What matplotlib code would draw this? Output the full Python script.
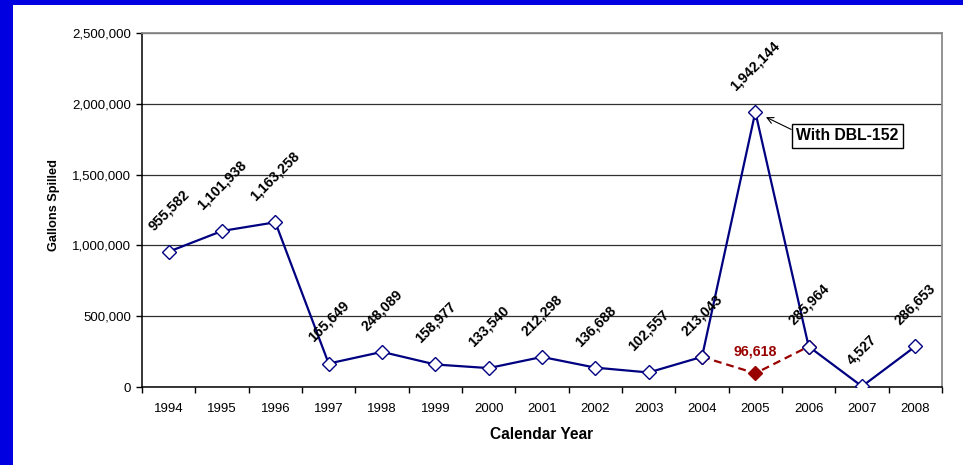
import matplotlib
matplotlib.use("Agg")
import matplotlib.pyplot as plt
from matplotlib.patches import Rectangle
from matplotlib.ticker import FuncFormatter, MultipleLocator, FixedLocator

years = ["1994", "1995", "1996", "1997", "1998", "1999", "2000", "2001",
         "2002", "2003", "2004", "2005", "2006", "2007", "2008"]
gallons = [955582, 1101938, 1163258, 165649, 248089, 158977, 133540, 212298,
           136688, 102557, 213043, 1942144, 285964, 4527, 286653]
alt_years = ["2004", "2005", "2006"]
alt_gallons = [213043, 96618, 285964]
alt_label_year = "2005"
alt_label_value = 96618
note_text = "With DBL-152"
note_year = "2005"

plt.rcParams['font.family'] = ['Liberation Sans', 'DejaVu Sans']

W, H = 963, 465
fig = plt.figure(figsize=(W / 100, H / 100), dpi=100)
fig.patch.set_facecolor('white')
blue = '#0000e0'
fig.patches.append(Rectangle((0, 0), 13 / W, 1, transform=fig.transFigure,
                             facecolor=blue, edgecolor='none', zorder=0))
fig.patches.append(Rectangle((0, 1 - 5 / H), 1, 5 / H, transform=fig.transFigure,
                             facecolor=blue, edgecolor='none', zorder=0))

ax = fig.add_axes([142 / W, (H - 387) / H, 800 / W, 354 / H])
ax.set_facecolor('white')

x = list(range(len(years)))
xi = {y: i for i, y in enumerate(years)}
navy = '#000080'
red = '#990000'

ax.plot([xi[y] for y in alt_years], alt_gallons, color=red, lw=1.6,
        ls=(0, (3.5, 2.2)), marker='D', ms=7, mfc=red, mec=red, zorder=2)
ax.plot(x, gallons, color=navy, lw=1.6, marker='D', ms=7.2, mfc='white',
        mec=navy, mew=1.0, zorder=3)

for xv, v in zip(x, gallons):
    ax.annotate(f"{v:,}", (xv, v), xytext=(0, 13.5), textcoords='offset points',
                ha='center', va='bottom', rotation=45, fontsize=10.2,
                fontweight='bold', color='black', zorder=5)

ax.annotate(f"{alt_label_value:,}", (xi[alt_label_year], alt_label_value),
            xytext=(0, 10.5), textcoords='offset points', ha='center',
            va='bottom', fontsize=10.2, fontweight='bold', color=red, zorder=5)

ax.annotate(note_text, xy=(xi[note_year], gallons[xi[note_year]]),
            xytext=(12.73, 1772600), textcoords='data', ha='center', va='center',
            fontsize=11.3, fontweight='bold', color='black',
            bbox=dict(boxstyle='square,pad=0.3', fc='white', ec='black', lw=1),
            arrowprops=dict(arrowstyle='->', color='black', lw=0.8,
                            relpos=(0, 0.77), shrinkA=0, shrinkB=8.5),
            zorder=6)

ax.set_xlim(-0.5, len(years) - 0.5)
ax.set_ylim(0, 2500000)
ax.yaxis.set_major_locator(MultipleLocator(500000))
ax.yaxis.set_major_formatter(FuncFormatter(lambda v, p: f"{int(v):,}"))
ax.set_xticks(x)
ax.set_xticklabels(years)
ax.xaxis.set_minor_locator(FixedLocator([i - 0.5 for i in range(len(years) + 1)]))
ax.tick_params(axis='x', which='major', length=0, pad=11.5, labelsize=9.5)
ax.tick_params(axis='x', which='minor', length=4, width=1, direction='out', color='black')
ax.tick_params(axis='y', which='major', length=4, width=1, direction='out',
               color='black', labelsize=9.5, pad=4)

ax.grid(axis='y', color='#303030', lw=0.9, zorder=1)
ax.set_axisbelow(True)
for s in ['left', 'bottom']:
    ax.spines[s].set_color('black')
    ax.spines[s].set_linewidth(1.1)
for s in ['top', 'right']:
    ax.spines[s].set_color('#8a8a8a')
    ax.spines[s].set_linewidth(1.3)

ax.set_xlabel("Calendar Year", fontsize=11.2, fontweight='bold', labelpad=8.5)
ax.set_ylabel("Gallons Spilled", fontsize=9.2, fontweight='bold')
ax.yaxis.set_label_coords(60 / W, (H - 205) / H, transform=fig.transFigure)

fig.savefig("out.png", dpi=100, facecolor=fig.get_facecolor())
